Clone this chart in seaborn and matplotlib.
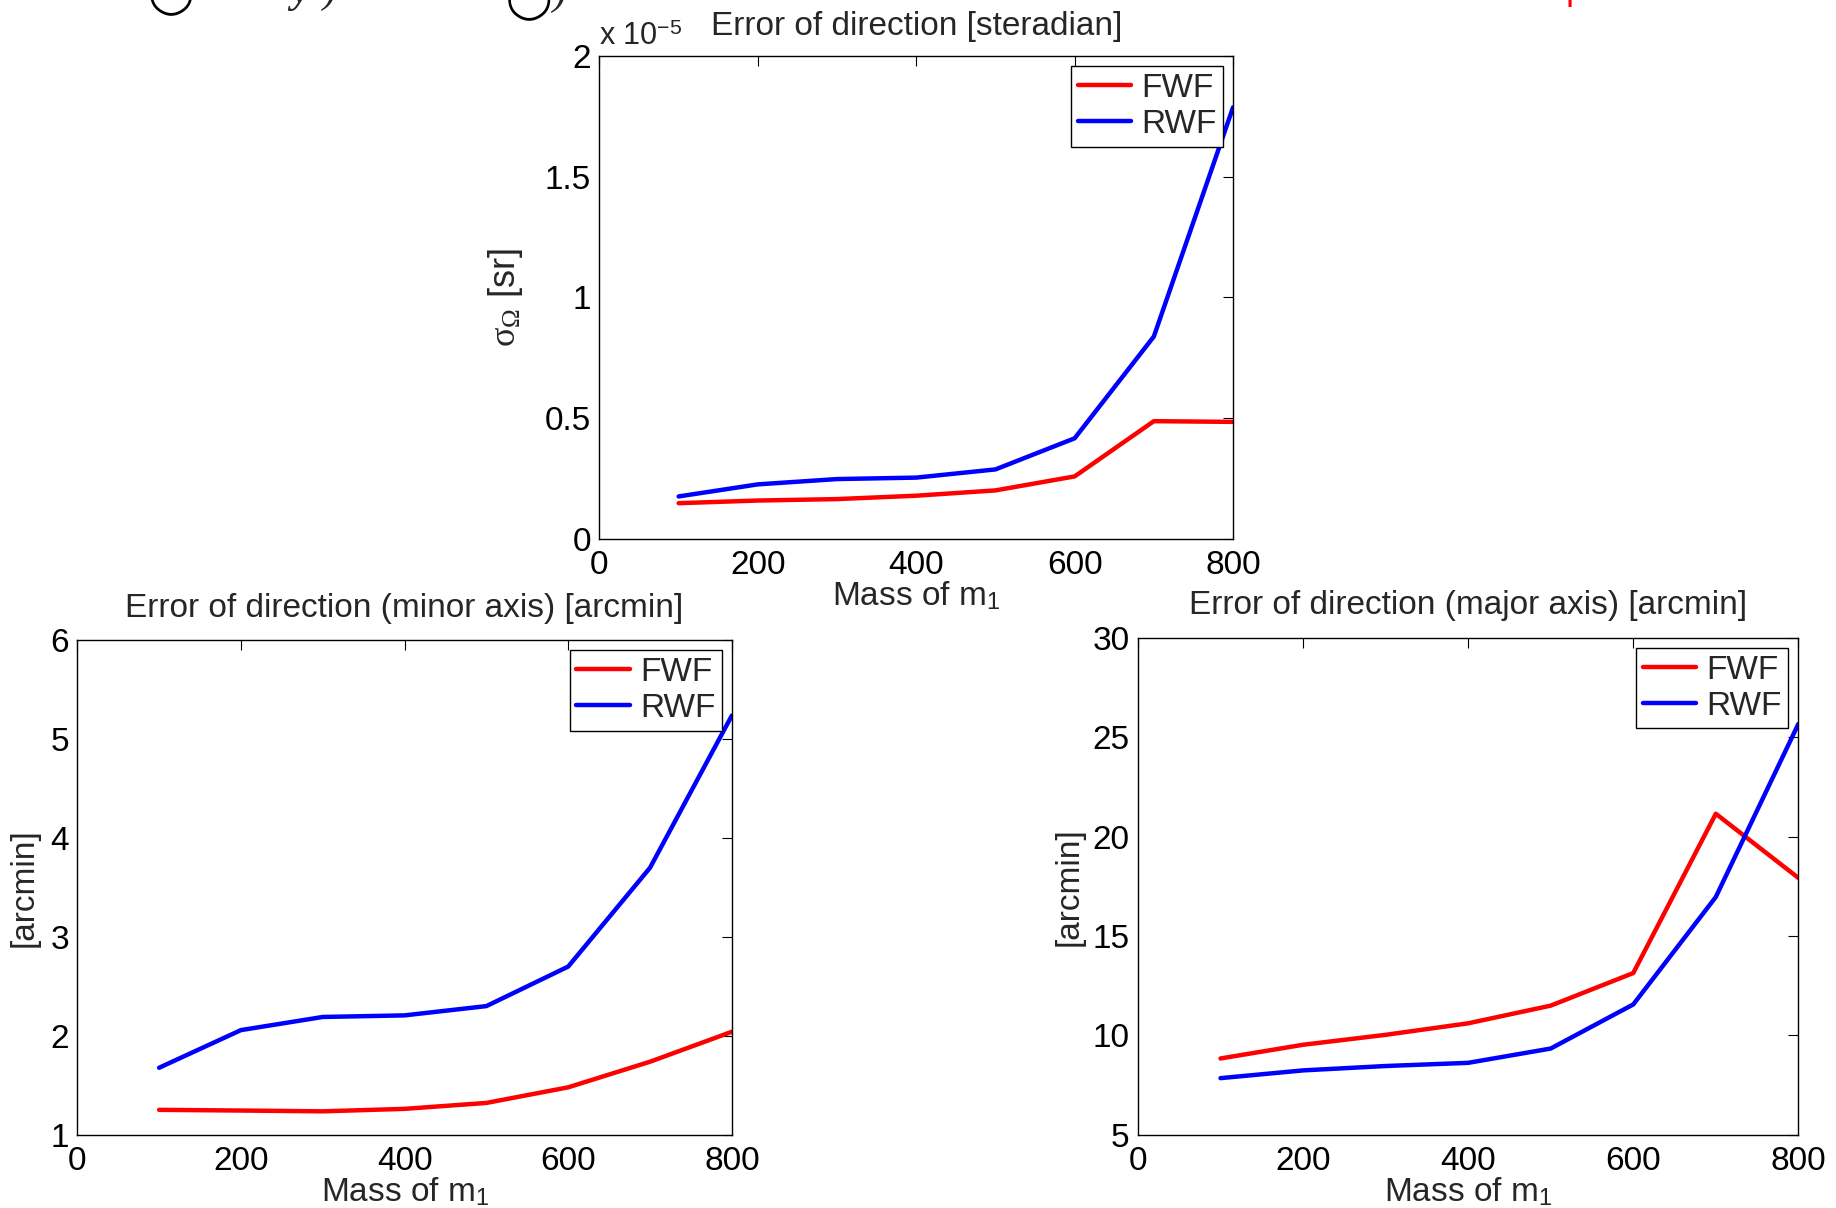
import numpy as np
import pandas as pd
import matplotlib
matplotlib.use("Agg")
import matplotlib.pyplot as plt
import seaborn as sns
from matplotlib.ticker import FuncFormatter, MultipleLocator

# ---- data ----
mass = [100, 200, 300, 400, 500, 600, 700, 800]
series = ["FWF", "RWF"]

# Error of direction [steradian], in units of 1e-5 sr
omega_fwf = [0.147, 0.158, 0.164, 0.178, 0.200, 0.258, 0.487, 0.484]
omega_rwf = [0.175, 0.225, 0.247, 0.253, 0.287, 0.416, 0.838, 1.788]

# minor axis [arcmin]
minor_fwf = [1.25, 1.243, 1.235, 1.26, 1.32, 1.478, 1.737, 2.04]
minor_rwf = [1.676, 2.057, 2.19, 2.206, 2.30, 2.70, 3.70, 5.24]

# major axis [arcmin]
major_fwf = [8.83, 9.52, 10.02, 10.6, 11.49, 13.13, 21.15, 17.92]
major_rwf = [7.84, 8.23, 8.45, 8.61, 9.33, 11.55, 16.96, 25.67]

titles = ["Error of direction [steradian]",
          "Error of direction (minor axis) [arcmin]",
          "Error of direction (major axis) [arcmin]"]
ylabels = [r"$\mathrm{\sigma}_{\Omega}$ [sr]", "[arcmin]", "[arcmin]"]
xlabel = r"Mass of m$_{\mathsf{1}}$"
ylims = [(0, 2), (1, 6), (5, 30)]
ysteps = [0.5, 1, 5]

sns.set_theme(style="white")
plt.rcParams["font.family"] = ["Liberation Sans Narrow", "Liberation Sans", "DejaVu Sans"]
plt.rcParams["mathtext.fontset"] = "custom"
plt.rcParams["mathtext.rm"] = "Liberation Serif"
plt.rcParams["mathtext.it"] = "Liberation Serif:italic"
plt.rcParams["mathtext.sf"] = "Liberation Sans"

def long_df(fwf, rwf):
    return pd.DataFrame({
        "mass": mass + mass,
        "value": list(fwf) + list(rwf),
        "series": ["FWF"] * len(mass) + ["RWF"] * len(mass),
    })

data = [long_df(omega_fwf, omega_rwf),
        long_df(minor_fwf, minor_rwf),
        long_df(major_fwf, major_rwf)]

fig = plt.figure(figsize=(18.36, 12.08), dpi=100)
positions = [
    [0.3265, 0.5541, 0.3451, 0.3994],
    [0.0421, 0.0608, 0.3565, 0.4090],
    [0.6198, 0.0608, 0.3597, 0.4111],
]
palette = {"FWF": "#ff0000", "RWF": "#0000ff"}
fs = 24
title_pads = [15, 17, 17]
ylabel_pads = [14, 8, 6]

for i, (pos, df) in enumerate(zip(positions, data)):
    ax = fig.add_axes(pos)
    sns.lineplot(data=df, x="mass", y="value", hue="series", hue_order=series,
                 palette=palette, linewidth=3.2, ax=ax, legend=True)
    ax.set_xlim(0, 800)
    ax.set_ylim(*ylims[i])
    ax.xaxis.set_major_locator(MultipleLocator(200))
    ax.yaxis.set_major_locator(MultipleLocator(ysteps[i]))
    fmt = FuncFormatter(lambda v, p: "%g" % v)
    ax.xaxis.set_major_formatter(fmt)
    ax.yaxis.set_major_formatter(fmt)
    ax.tick_params(direction="in", length=7, width=0.8, top=True, right=True,
                   labelsize=fs, colors="black")
    ax.tick_params(axis="x", pad=8)
    ax.tick_params(axis="y", pad=6)
    for s in ax.spines.values():
        s.set_color("black")
        s.set_linewidth(1.0)
    ax.set_title(titles[i], fontsize=fs, pad=title_pads[i])
    ax.set_xlabel(xlabel, fontsize=fs, labelpad=-1)
    ax.set_ylabel(ylabels[i], fontsize=fs + (2 if i == 0 else 0), labelpad=ylabel_pads[i])
    leg = ax.legend(loc="upper right", fontsize=fs, frameon=True, fancybox=False,
                    edgecolor="black", framealpha=1, borderaxespad=0.3,
                    handlelength=1.6, handletextpad=0.3, borderpad=0.2,
                    labelspacing=0.15)
    leg.get_frame().set_linewidth(1.0)
    for line in leg.get_lines():
        line.set_linewidth(3.2)
    if i == 0:
        ax.text(0.0, 1.008, r"x 10$^{\mathsf{-5}}$", transform=ax.transAxes,
                fontsize=fs - 2, ha="left", va="bottom")

# fragments of the page above, cut off at the top edge
fig.text(171 / 1836, 1 - 4 / 1208, "\u25ef", family="DejaVu Sans",
         fontsize=30, ha="center", va="baseline", color="black")
fig.text(300 / 1836, 1 - 2 / 1208, "y", family="Liberation Serif",
         style="italic", weight="bold", fontsize=30, ha="center", va="baseline")
fig.text(330 / 1836, 1 - 2 / 1208, ")", family="Liberation Serif",
         style="italic", fontsize=30, ha="center", va="baseline")
fig.text(529 / 1836, 1 - 9.5 / 1208, "\u25ef", family="DejaVu Sans",
         fontsize=30, ha="center", va="baseline", color="black")
fig.text(560 / 1836, 1 - 4 / 1208, ")", family="Liberation Serif",
         style="italic", fontsize=30, ha="center", va="baseline")
fig.text(1570 / 1836, 1.0, "|", family="DejaVu Sans",
         weight="bold", fontsize=20, color="red", ha="center", va="baseline")

fig.savefig("out.png", dpi=100)
